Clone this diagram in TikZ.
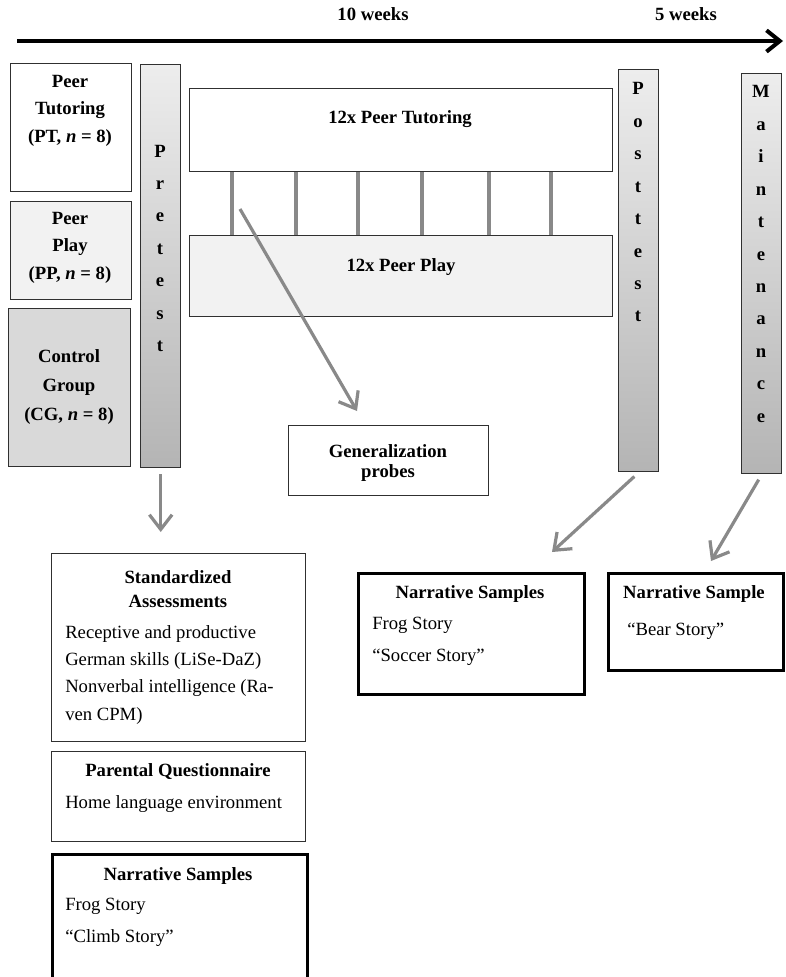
\documentclass[tikz,border=0pt]{standalone}
\usepackage{fontspec}
\setmainfont{Liberation Serif}
\usetikzlibrary{arrows.meta}

\definecolor{boxline}{HTML}{303030}
\definecolor{lightfill}{HTML}{F2F2F2}
\definecolor{cgfill}{HTML}{D9D9D9}
\definecolor{bartop}{HTML}{EDEDED}
\definecolor{barbottom}{HTML}{B4B4B4}
\definecolor{arrowgray}{HTML}{898989}

\newlength{\pxl}
\setlength{\pxl}{0.75pt}

\tikzset{
  box/.style={draw=boxline, line width=1.1pt, anchor=north west, inner sep=0pt},
  boldbox/.style={box, draw=black, line width=2.3pt},
  bar/.style={box, top color=bartop, bottom color=barbottom, minimum width=40\pxl},
  head/.style={font=\bfseries, align=center, inner sep=0pt, anchor=north},
  title/.style={font=\bfseries, inner sep=0pt, anchor=base},
  body/.style={align=left, inner sep=0pt, anchor=north west},
  line/.style={inner sep=0pt, anchor=base west},
  flow/.style={draw=arrowgray, line width=2.4pt, -{Straight Barb[length=11pt,width=17pt]}},
  rung/.style={draw=arrowgray, line width=2.4pt},
}

\begin{document}
\begin{tikzpicture}[x=0.75pt, y=-0.75pt]
\fontsize{14}{20.5}\selectfont
\useasboundingbox (0,0) rectangle (785,977);

% time line
\coordinate (t0) at (17,41);
\coordinate (t1) at (783,41);
\draw[line width=3pt, -{Straight Barb[length=10pt,width=16pt]}] (t0) -- (t1);
\node[title] (w10) at (373,21) {10 weeks};
\node[title] (w5) at (686,21) {5 weeks};

% groups
\node[box, minimum width=121\pxl, minimum height=128\pxl] (pt) at (10,63) {};
\node[box, fill=lightfill, minimum width=121\pxl, minimum height=98\pxl] (pp) at (10,201) {};
\node[box, fill=cgfill, minimum width=122\pxl, minimum height=158\pxl] (cg) at (8,308) {};
\node[head] (pt-txt) at (70,75) {Peer\\Tutoring\\(PT, \textit{n} = 8)};
\node[head] (pp-txt) at (70,212) {Peer\\Play\\(PP, \textit{n} = 8)};
\node[head] (cg-txt) at (69,349) {Control\\[1.2pt]Group\\[1.2pt](CG, \textit{n} = 8)};

% pretest
\node[bar, minimum height=403\pxl] (pre) at (140,64) {};
\foreach \l [count=\i from 0] in {P,r,e,t,e,s,t}
  \node[title] (pre-\i) at (160,{157+32.4*\i}) {\l};

% sessions
\node[box, minimum width=423\pxl, minimum height=83\pxl] (tut) at (189,88) {};
\node[box, fill=lightfill, minimum width=423\pxl, minimum height=81\pxl] (play) at (189,235) {};
\node[title] (tut-txt) at (400,124) {12x Peer Tutoring};
\node[title] (play-txt) at (401,271) {12x Peer Play};
\foreach \x in {232,296,358,422,489,551}
  \draw[rung] ([xshift={(\x-189)*\pxl}]tut.south west) -- ([xshift={(\x-189)*\pxl}]play.north west);

% generalization
\node[box, minimum width=200\pxl, minimum height=70\pxl] (gen) at (288,425) {};
\node[head] (gen-txt) at (388,444) {Generalization\\[-5.5pt]probes};
\coordinate (probe-from) at (240,209);
\coordinate (probe-to) at (357,411);
\draw[flow] (probe-from) -- (probe-to);

% posttest and maintenance
\node[bar, minimum height=402\pxl] (post) at (618,69) {};
\foreach \l [count=\i from 0] in {P,o,s,t,t,e,s,t}
  \node[title] (post-\i) at (638,{95+32.4*\i}) {\l};
\node[bar, minimum height=400\pxl] (maint) at (741,73) {};
\foreach \l [count=\i from 0] in {M,a,i,n,t,e,n,a,n,c,e}
  \node[title] (maint-\i) at (761,{98+32.4*\i}) {\l};

% measures at pretest
\node[box, minimum width=254\pxl, minimum height=188\pxl] (sa) at (51,553) {};
\node[head] (sa-head) at (178,570) {Standardized\\[-2.5pt]Assessments};
\node[body] (sa-body) at (65,625) {Receptive and productive\\German skills (LiSe-DaZ)\\Nonverbal intelligence (Ra-\\ven CPM)};

\node[box, minimum width=254\pxl, minimum height=90\pxl] (pq) at (51,751) {};
\node[title] (pq-head) at (178,776) {Parental Questionnaire};
\node[line] (pq-body) at (65,808) {Home language environment};

\node[boldbox, minimum width=255\pxl, minimum height=140\pxl] (nspre) at (51,853) {};
\node[title] (nspre-head) at (178,880) {Narrative Samples};
\node[body] (nspre-body) at (65,898) {Frog Story\\[3.5pt]“Climb Story”};

% measures at posttest and maintenance
\node[boldbox, minimum width=226\pxl, minimum height=121\pxl] (nspost) at (357,572) {};
\node[title] (nspost-head) at (470,598) {Narrative Samples};
\node[body] (nspost-body) at (372,617) {Frog Story\\[3.5pt]“Soccer Story”};

\node[boldbox, minimum width=175\pxl, minimum height=97\pxl] (nsm) at (607,572) {};
\node[title] (nsm-head) at (694,598) {Narrative Sample};
\node[line] (nsm-body) at (627,635) {“Bear Story”};

% arrows to the measures
\draw[flow, shorten <=6\pxl, shorten >=21\pxl] (pre.south) -- (pre.south |- sa.north);
\coordinate (post-tip) at (552,552);
\draw[flow, shorten <=6\pxl] (post.south) -- (post-tip);
\coordinate (maint-tip) at (711,561);
\draw[flow, shorten <=6\pxl] (maint.south) -- (maint-tip);

\end{tikzpicture}
\end{document}
